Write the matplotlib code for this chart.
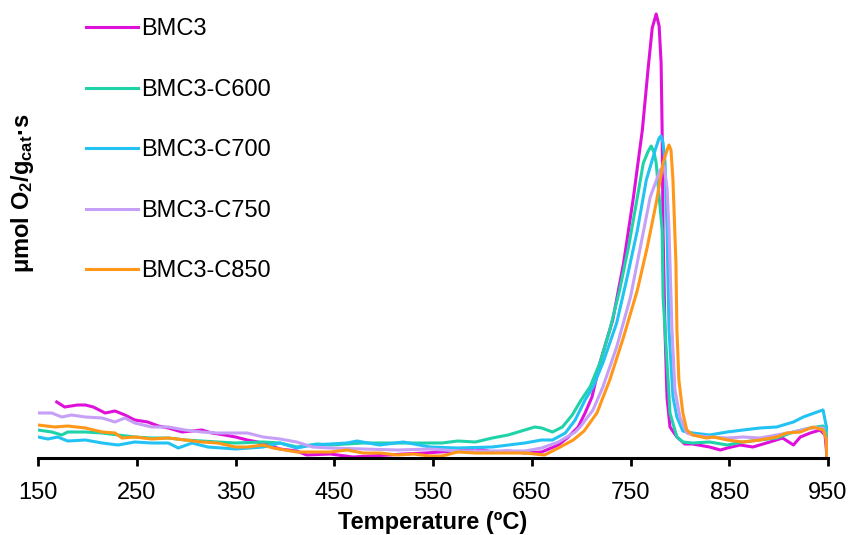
import matplotlib
matplotlib.use("Agg")
import matplotlib.pyplot as plt

plt.rcParams['font.family'] = ['Liberation Sans', 'DejaVu Sans']
plt.rcParams['mathtext.fontset'] = 'custom'
plt.rcParams['mathtext.rm'] = 'Liberation Sans'
plt.rcParams['mathtext.bf'] = 'Liberation Sans:bold'
plt.rcParams['mathtext.default'] = 'bf'

# BMC3
t_bmc3 = [169, 177, 190, 198, 206, 218, 228, 238, 248, 261, 272, 282, 296, 316, 326, 339, 350, 362, 378, 395,
          412, 422, 446, 469, 486, 506, 520, 542, 557, 575, 593, 610, 626, 643, 660, 677, 687, 697, 704, 711,
          719, 732, 743, 753, 762, 768, 772, 776, 779, 781, 782, 783, 785, 787, 790, 797, 805, 813, 830, 841,
          848, 861, 874, 891, 904, 915, 922, 932, 942, 947, 949]
v_bmc3 = [56, 51, 53, 53, 51, 45, 47, 43, 38, 36, 32, 30, 26, 28, 25, 23, 21, 18, 15, 9,
          7, 3, 4, 1, 2, 3, 4, 5, 6, 7, 10, 6, 7, 5, 6, 13, 21, 31, 45, 61,
          95, 138, 195, 261, 328, 391, 430, 444, 432, 395, 330, 225, 125, 60, 31, 21, 14, 14, 11, 8,
          10, 13, 11, 16, 20, 13, 21, 25, 28, 23, 1]

# BMC3-C600
t_c600 = [150, 164, 174, 180, 198, 215, 231, 248, 265, 282, 299, 316, 332, 350, 378, 395, 412, 433, 446, 479,
          514, 530, 547, 559, 575, 593, 610, 626, 643, 653, 660, 671, 681, 691, 700, 709, 719, 729, 739, 748,
          757, 763, 768, 771, 774, 776, 782, 783, 787, 790, 797, 803, 813, 830, 848, 864, 881, 898, 915, 932,
          945, 948, 950]
v_c600 = [28, 26, 23, 26, 26, 25, 23, 21, 20, 20, 18, 17, 16, 15, 16, 15, 11, 14, 13, 15,
          15, 15, 15, 15, 17, 16, 20, 23, 28, 31, 30, 26, 31, 43, 58, 71, 95, 128, 168, 211,
          261, 295, 307, 312, 305, 295, 228, 161, 95, 45, 21, 16, 15, 16, 13, 16, 18, 20, 26, 30,
          32, 26, 18]

# BMC3-C700
t_c700 = [150, 160, 170, 180, 198, 215, 231, 248, 265, 282, 292, 306, 322, 336, 350, 378, 395, 412, 428, 463,
          473, 496, 520, 547, 575, 610, 643, 660, 671, 684, 694, 704, 712, 722, 736, 746, 757, 766, 775, 779,
          781, 783, 785, 787, 789, 793, 797, 803, 813, 830, 848, 864, 881, 898, 915, 925, 939, 945, 948, 950]
v_c700 = [21, 19, 21, 17, 18, 15, 13, 16, 15, 15, 10, 15, 11, 10, 9, 11, 15, 10, 13, 15,
          17, 13, 16, 11, 10, 11, 15, 18, 18, 25, 38, 58, 71, 95, 135, 178, 228, 278, 308, 320,
          322, 315, 295, 228, 128, 61, 41, 27, 25, 23, 26, 28, 30, 31, 36, 41, 46, 48, 33, 28]

# BMC3-C750
t_c750 = [150, 164, 174, 184, 198, 215, 228, 238, 248, 265, 282, 299, 316, 332, 346, 362, 378, 395, 412, 428,
          446, 479, 514, 547, 575, 610, 643, 660, 677, 694, 699, 712, 722, 736, 750, 760, 770, 780, 784, 787,
          789, 792, 795, 800, 807, 813, 830, 848, 864, 881, 898, 915, 932, 945, 948, 950]
v_c750 = [45, 45, 41, 43, 41, 40, 36, 40, 35, 31, 31, 28, 26, 25, 25, 25, 21, 19, 16, 11,
          10, 9, 8, 9, 7, 7, 7, 10, 16, 26, 31, 48, 71, 111, 161, 211, 261, 288, 292, 270,
          228, 128, 68, 41, 25, 23, 21, 20, 21, 20, 23, 26, 30, 30, 20, 10]

# BMC3-C850
t_c850 = [150, 167, 180, 198, 215, 228, 235, 248, 265, 282, 299, 316, 332, 350, 362, 378, 388, 412, 446, 463,
          479, 496, 514, 530, 547, 559, 575, 593, 610, 643, 663, 677, 692, 703, 716, 729, 743, 757, 767, 776,
          783, 787, 789, 791, 793, 796, 797, 799, 803, 807, 813, 827, 834, 848, 864, 881, 898, 908, 922, 935,
          945, 948, 949]
v_c850 = [33, 31, 32, 30, 26, 25, 20, 21, 19, 20, 18, 16, 15, 11, 11, 13, 10, 6, 6, 8,
          5, 5, 3, 4, 2, 2, 6, 5, 5, 5, 3, 10, 18, 27, 45, 78, 121, 168, 211, 255,
          295, 308, 313, 308, 278, 195, 128, 78, 45, 28, 23, 20, 21, 18, 16, 18, 21, 25, 26, 31,
          28, 20, 0]

labels = ['BMC3', 'BMC3-C600', 'BMC3-C700', 'BMC3-C750', 'BMC3-C850']
colors = ['#DF10DA', '#1ED3A8', '#22C3F3', '#C5A0F6', '#FF9718']
series = [(t_bmc3, v_bmc3), (t_c600, v_c600), (t_c700, v_c700), (t_c750, v_c750), (t_c850, v_c850)]
xticks = [150, 250, 350, 450, 550, 650, 750, 850, 950]

fig = plt.figure(figsize=(8.52, 5.35), dpi=100)
ax = fig.add_axes([38/852, 77/535, 790/852, 458/535])

for (t, v), c, lab in zip(series, colors, labels):
    ax.plot(t, v, color=c, lw=2.2, label=lab, solid_joinstyle='round')

ax.set_xlim(150, 950)
ax.set_ylim(0, 458)
ax.set_xticks(xticks)
ax.set_yticks([])
for s in ['top', 'right', 'left']:
    ax.spines[s].set_visible(False)
ax.spines['bottom'].set_linewidth(2.2)
ax.tick_params(axis='x', direction='out', length=6, width=2, labelsize=17, pad=11)

ax.set_xlabel('Temperature (ºC)', fontsize=17, fontweight='bold', labelpad=5)
ax.set_ylabel(r'μmol O$_2$/g$_{cat}$·s', fontsize=17, fontweight='bold')
ax.yaxis.set_label_coords(-0.002, 0.578)

ax.legend(loc='upper left', bbox_to_anchor=(77/852, (535 - 9)/535), bbox_transform=fig.transFigure,
          frameon=False, fontsize=17, handlelength=2.2, handletextpad=0.1,
          labelspacing=1.63, borderpad=0.4, borderaxespad=0)

fig.savefig('out.png', dpi=100)
